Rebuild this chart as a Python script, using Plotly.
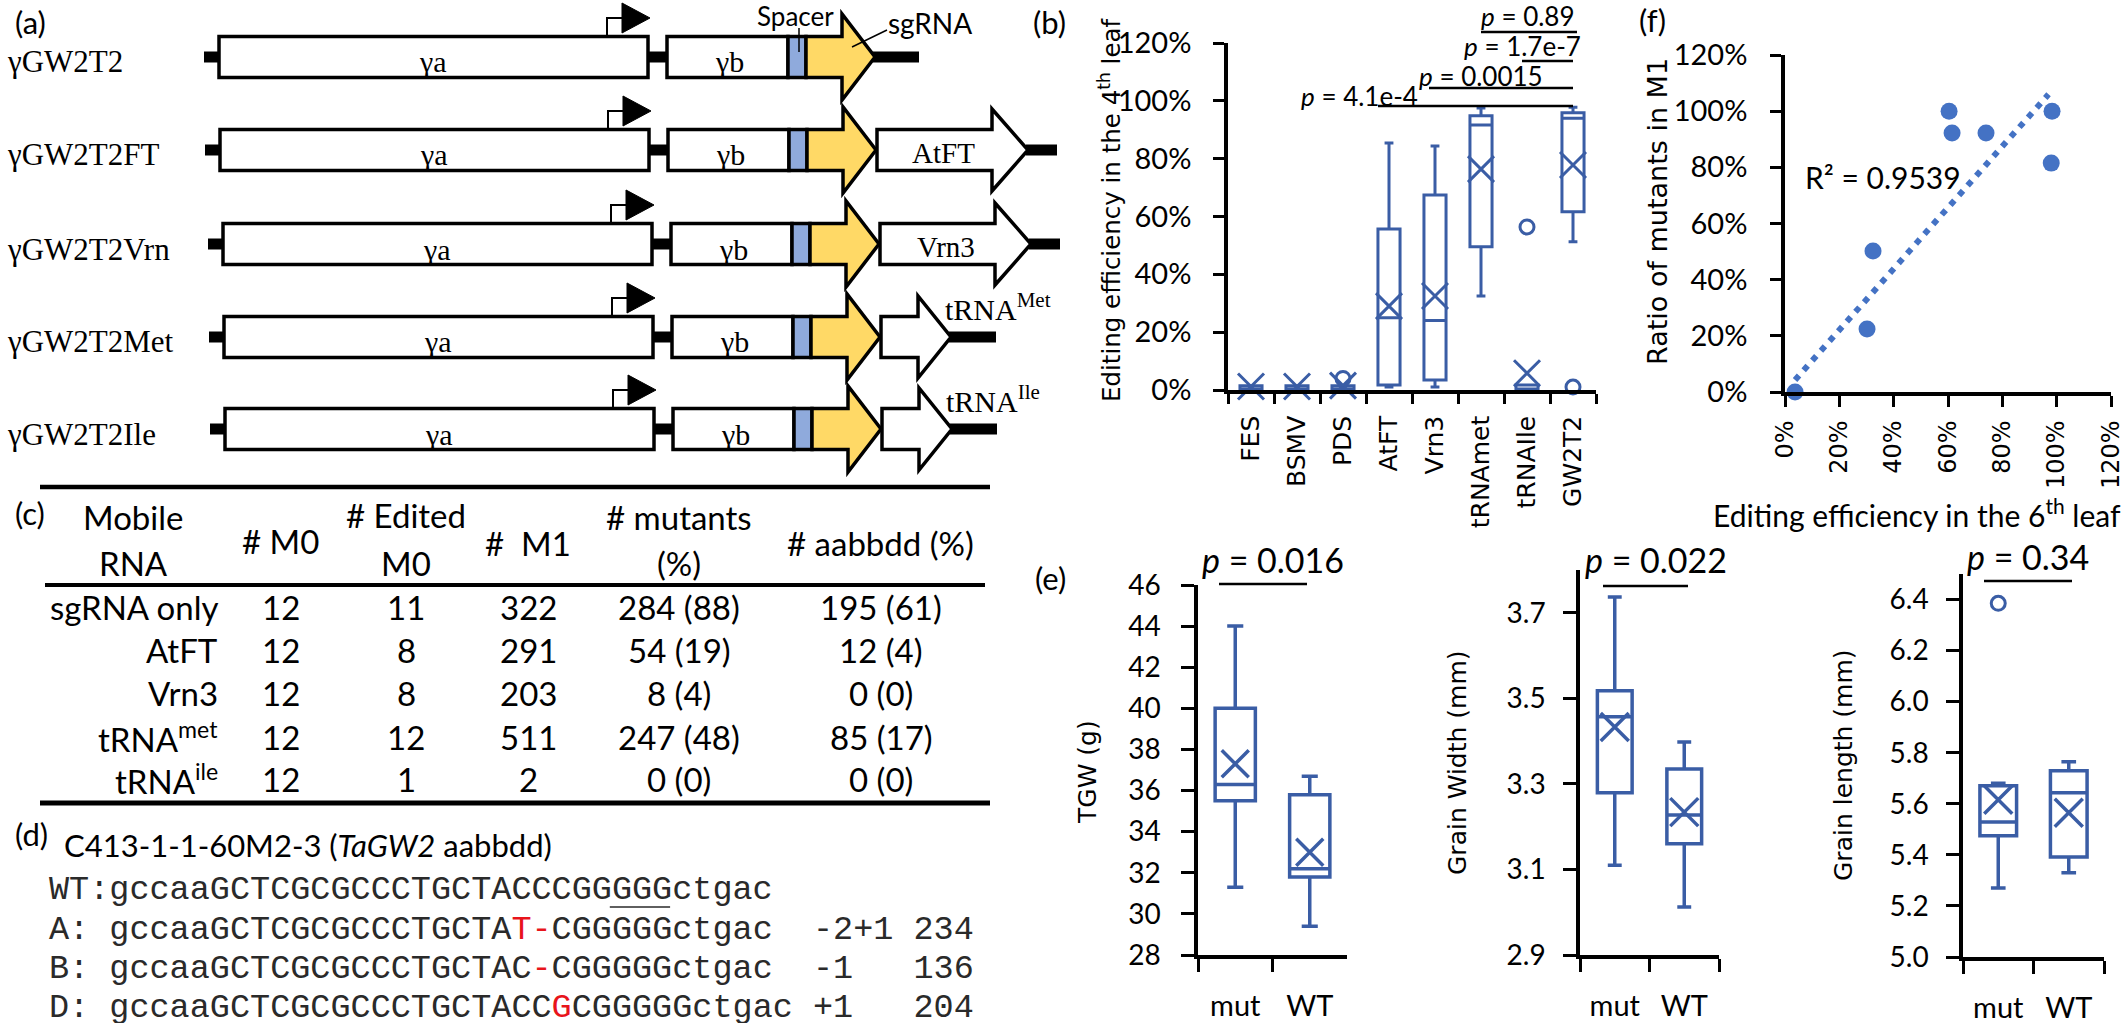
import plotly.graph_objects as go

W, H = 2128, 1023
BOX_BLUE = "#3A5DA5"
DOT_BLUE = "#4472C4"
YELLOW = "#FFD966"
SPACER_BLUE = "#8FAADC"
SANS = "Lato"
WIDE = "DejaVu Sans"
SERIF = "Liberation Serif"
MONO = "Liberation Mono"
NB = "\u00a0"

# ---------------- data ----------------
# (a) constructs
construct_names = ["γGW2T2", "γGW2T2FT", "γGW2T2Vrn", "γGW2T2Met", "γGW2T2Ile"]
cargo_labels = ["", "AtFT", "Vrn3", "tRNA<sup>Met</sup>", "tRNA<sup>Ile</sup>"]
cargo_kind = ["none", "long", "long", "short", "short"]

# (b) editing efficiency in the 4th leaf
b_cats = ["FES", "BSMV", "PDS", "AtFT", "Vrn3", "tRNAmet", "tRNAIle", "GW2T2"]
b_q1 = [0.0, 0.0, 0.0, 0.017, 0.035, 0.495, 0.0, 0.616]
b_median = [0.0, 0.0, 0.0, 0.25, 0.24, 0.916, 0.0, 0.94]
b_q3 = [0.015, 0.015, 0.015, 0.557, 0.674, 0.948, 0.017, 0.959]
b_low = [0.0, 0.0, 0.0, 0.01, 0.01, 0.325, 0.0, 0.513]
b_high = [0.015, 0.015, 0.015, 0.854, 0.844, 0.975, 0.017, 0.978]
b_mean = [0.012, 0.012, 0.015, 0.29, 0.325, 0.764, 0.058, 0.778]
b_out_cat = ["PDS", "tRNAIle", "GW2T2"]
b_out_val = [0.04, 0.564, 0.01]
b_pvals = ["4.1e-4", "0.0015", "1.7e-7", "0.89"]

# (c) table
c_rows = ["sgRNA only", "AtFT", "Vrn3", "tRNA<sup>met</sup>", "tRNA<sup>ile</sup>"]
c_m0 = [12, 12, 12, 12, 12]
c_edited = [11, 8, 8, 12, 1]
c_m1 = [322, 291, 203, 511, 2]
c_mut_n = [284, 54, 8, 247, 0]
c_mut_pct = [88, 19, 4, 48, 0]
c_abd_n = [195, 12, 0, 85, 0]
c_abd_pct = [61, 4, 0, 17, 0]

# (d) sequences
d_title = "C413-1-1-60M2-3 (<i>TaGW2</i> aabbdd)"
d_labels = ["WT:", "A:" + NB, "B:" + NB, "D:" + NB]
d_pre = ["gccaaGCTCGCGCCCTGCTACCCGGGGGctgac", "gccaaGCTCGCGCCCTGCTA", "gccaaGCTCGCGCCCTGCTAC", "gccaaGCTCGCGCCCTGCTACC"]
d_red = ["", "T-", "-", "G"]
d_post = ["", "CGGGGGctgac", "CGGGGGctgac", "CGGGGGctgac"]
d_indel = ["", "-2+1", "-1", "+1"]
d_count = ["", "234", "136", "204"]

# (e) grain traits
e_groups = ["mut", "WT"]
tgw_low, tgw_q1, tgw_med, tgw_q3, tgw_high, tgw_mean = [31.3, 29.4], [35.5, 31.8], [36.3, 32.2], [40.0, 35.8], [44.0, 36.7], [37.3, 33.0]
gw_low, gw_q1, gw_med, gw_q3, gw_high, gw_mean = [3.11, 3.012], [3.279, 3.16], [3.457, 3.227], [3.518, 3.335], [3.737, 3.398], [3.433, 3.234]
gl_low, gl_q1, gl_med, gl_q3, gl_high, gl_mean = [5.27, 5.33], [5.475, 5.392], [5.529, 5.643], [5.671, 5.729], [5.68, 5.765], [5.616, 5.565]
gl_out_cat, gl_out_val = ["mut"], [6.385]
e_pvals = ["0.016", "0.022", "0.34"]

# (f) correlation
f_x = [0.037, 0.302, 0.324, 0.604, 0.615, 0.74, 0.983, 0.98]
f_y = [0.0, 0.224, 0.502, 1.0, 0.922, 0.922, 1.0, 0.815]
trend_x = [0.037, 0.97]
trend_y = [0.043, 1.06]
f_r2 = "R² = 0.9539"

# ---------------- helpers ----------------
shapes, annots = [], []


def px(x):
    return x / W


def py(y):
    return 1 - y / H


def rect(x0, y0, x1, y1, fill="black", lw=0):
    shapes.append(dict(type="rect", xref="paper", yref="paper",
                       x0=px(x0), x1=px(x1), y0=py(y1), y1=py(y0),
                       fillcolor=fill, line=dict(color="black", width=lw), layer="above"))


def poly(pts, fill, lw):
    path = "M " + " L ".join(f"{px(x):.6f},{py(y):.6f}" for x, y in pts) + " Z"
    shapes.append(dict(type="path", xref="paper", yref="paper", path=path,
                       fillcolor=fill, line=dict(color="black", width=lw), layer="above"))


def seg(x0, y0, x1, y1, w=2, color="black"):
    shapes.append(dict(type="line", xref="paper", yref="paper",
                       x0=px(x0), y0=py(y0), x1=px(x1), y1=py(y1),
                       line=dict(color=color, width=w), layer="above"))


def txt(x, y, s, size, family=SANS, xa="center", ya="middle", angle=0, color="black"):
    annots.append(dict(x=px(x), y=py(y), xref="paper", yref="paper", text=s,
                       showarrow=False, xanchor=xa, yanchor=ya, textangle=angle,
                       font=dict(size=size, family=family, color=color)))


# ---------------- panel (a) ----------------
ROW_Y = [57, 150, 244, 337, 429]
ROW_DX = [0, 1, 4, 5, 6]
BH = 20.5
LW = 3.5
for i, name in enumerate(construct_names):
    c, d = ROW_Y[i], ROW_DX[i]
    rect(204 + d, c - 5.5, 221 + d, c + 5.5)
    rect(646 + d, c - 5.5, 669 + d, c + 5.5)
    kind = cargo_kind[i]
    if kind == "none":
        rect(873 + d, c - 5.5, 919 + d, c + 5.5)
    elif kind == "long":
        rect(1025 + d, c - 5.5, 1056 + d, c + 5.5)
    else:
        rect(944 + d, c - 5.5, 991 + d, c + 5.5)
    rect(219 + d, c - BH, 648 + d, c + BH, "white", LW)
    rect(667 + d, c - BH, 788 + d, c + BH, "white", LW)
    rect(788 + d, c - BH, 806 + d, c + BH, SPACER_BLUE, LW)
    poly([(806 + d, c - BH), (842 + d, c - BH), (842 + d, c - 43), (875 + d, c),
          (842 + d, c + 43), (842 + d, c + BH), (806 + d, c + BH)], YELLOW, LW)
    if kind == "long":
        poly([(876 + d, c - BH), (991 + d, c - BH), (991 + d, c - 41), (1027 + d, c),
              (991 + d, c + 41), (991 + d, c + BH), (876 + d, c + BH)], "white", LW)
        txt(942 + d, c + 3, cargo_labels[i], 29, SERIF)
    elif kind == "short":
        poly([(876 + d, c - BH), (913 + d, c - BH), (913 + d, c - 41), (946 + d, c),
              (913 + d, c + 41), (913 + d, c + BH), (876 + d, c + BH)], "white", LW)
        txt(938 + d, c - 30, cargo_labels[i], 30, SERIF, xa="left")
    seg(607 + d, c - BH, 607 + d, c - 39, 2)
    seg(606 + d, c - 39, 624 + d, c - 39, 2)
    poly([(622 + d, c - 54), (650 + d, c - 39), (622 + d, c - 24)], "black", 1)
    txt(5, c + 5, name, 31, SERIF, xa="left")
    txt(433 + d, c + 5, "γa", 30, SERIF)
    txt(729 + d, c + 5, "γb", 30, SERIF)

txt(795, 16, "Spacer", 26)
txt(930, 23, "sgRNA", 28)
seg(799, 28, 799, 52, 1.5)
seg(887, 30, 852, 47, 1.5)

# ---------------- panel (c) table ----------------
seg(40, 487, 990, 487, 4.5)
seg(45, 585, 985, 585, 4)
seg(40, 803, 990, 803, 5)
TF = 33
txt(133, 517, "Mobile", TF)
txt(133, 563, "RNA", TF)
txt(280, 541, "#" + NB + "M0", TF)
txt(406, 515, "#" + NB + "Edited", TF)
txt(406, 563, "M0", TF)
txt(528, 543, "#" + NB + NB + "M1", TF)
txt(679, 517, "#" + NB + "mutants", TF)
txt(679, 563, "(%)", TF)
txt(880, 543, "#" + NB + "aabbdd (%)", TF)
ROWS_C = [607, 650, 693, 737, 779]
for i, lab in enumerate(c_rows):
    y = ROWS_C[i]
    txt(220, y, lab, TF, xa="right")
    txt(281, y, str(c_m0[i]), TF)
    txt(406, y, str(c_edited[i]), TF)
    txt(528, y, str(c_m1[i]), TF)
    txt(679, y, f"{c_mut_n[i]} ({c_mut_pct[i]})", TF)
    txt(881, y, f"{c_abd_n[i]} ({c_abd_pct[i]})", TF)

# ---------------- panel (d) ----------------
txt(62, 845, d_title, 31, xa="left")
CW = 20.1
SEQ_X0 = 47
ROWS_D = [890, 930, 969, 1008]
for i in range(4):
    seq_len = len(d_pre[i]) + len(d_red[i]) + len(d_post[i])
    s = d_labels[i] + d_pre[i]
    if d_red[i]:
        s += f"<span style='color:#E8141B'>{d_red[i]}</span>"
    s += d_post[i]
    if d_indel[i]:
        s += NB * (35 - seq_len) + d_indel[i] + NB * (5 - len(d_indel[i])) + d_count[i]
    txt(SEQ_X0, ROWS_D[i], s, 33.5, MONO, xa="left", color="#2a2a2a")
seg(SEQ_X0 + (3 + 25) * CW, 907, SEQ_X0 + (3 + 28) * CW, 907, 1.5, "#2a2a2a")

# ---------------- panel labels ----------------
txt(30, 22, "(a)", 31)
txt(1049, 22, "(b)", 31)
txt(1652, 20, "(f)", 31)
txt(30, 513, "(c)", 31)
txt(31, 834, "(d)", 31)
txt(1050, 578, "(e)", 31)

# ---------------- panel (b) decorations ----------------
txt(1110, 210, "Editing efficiency in the 4<sup>th</sup> leaf", 24.5, WIDE, angle=-90)
b_brackets = [(1378, 1573, 106), (1429, 1573, 88), (1522, 1573, 61), (1481, 1577, 32)]
b_ptext = [(1359, 96), (1481, 76), (1522, 46), (1528, 16)]
for (x0, x1, y), (tx, ty), p in zip(b_brackets, b_ptext, b_pvals):
    seg(x0, y, x1, y, 2.5)
    txt(tx, ty, f"<i>p</i> = {p}", 26)

# ---------------- panel (f) decorations ----------------
txt(1657, 212, "Ratio of mutants in M1", 27, WIDE, angle=-90)
txt(1917, 513, "Editing efficiency in the 6<sup>th</sup> leaf", 30)
txt(1883, 177, f_r2, 30)

# ---------------- panel (e) decorations ----------------
txt(1087, 772, "TGW (g)", 25, WIDE, angle=-90)
txt(1457, 763, "Grain Width (mm)", 25, WIDE, angle=-90)
txt(1843, 765, "Grain length (mm)", 25, WIDE, angle=-90)
e_lines = [(1219, 1307, 584), (1603, 1688, 586), (1984, 2072, 581)]
e_ptext = [(1273, 559), (1656, 559), (2028, 556)]
for (x0, x1, y), (tx, ty), p in zip(e_lines, e_ptext, e_pvals):
    seg(x0, y, x1, y, 2.5)
    txt(tx, ty, f"<i>p</i> = {p}", 34)

# ---------------- traces ----------------
fig = go.Figure()


def add_box(xa, ya, cats, q1, med, q3, lo, hi, mean, width, lw, xsize):
    fig.add_trace(go.Box(x=cats, q1=q1, median=med, q3=q3, lowerfence=lo, upperfence=hi,
                         xaxis=xa, yaxis=ya, width=width, whiskerwidth=0.4,
                         line=dict(color=BOX_BLUE, width=lw), fillcolor="white",
                         boxpoints=False, hoverinfo="skip", showlegend=False))
    fig.add_trace(go.Scatter(x=cats, y=mean, xaxis=xa, yaxis=ya, mode="markers",
                             marker=dict(symbol="x-thin", size=xsize, color=BOX_BLUE,
                                         line=dict(width=lw, color=BOX_BLUE)),
                             cliponaxis=False, hoverinfo="skip", showlegend=False))


add_box("x", "y", b_cats, b_q1, b_median, b_q3, b_low, b_high, b_mean, 0.48, 3, 26)
fig.add_trace(go.Scatter(x=b_out_cat, y=b_out_val, xaxis="x", yaxis="y", mode="markers",
                         marker=dict(symbol="circle-open", size=14, color=BOX_BLUE,
                                     line=dict(width=3, color=BOX_BLUE)),
                         cliponaxis=False, hoverinfo="skip", showlegend=False))

fig.add_trace(go.Scatter(x=trend_x, y=trend_y, xaxis="x2", yaxis="y2", mode="lines",
                         line=dict(color=DOT_BLUE, width=6, dash="6px,7px"),
                         hoverinfo="skip", showlegend=False))
fig.add_trace(go.Scatter(x=f_x, y=f_y, xaxis="x2", yaxis="y2", mode="markers",
                         marker=dict(size=17, color=DOT_BLUE), cliponaxis=False,
                         hoverinfo="skip", showlegend=False))

add_box("x3", "y3", e_groups, tgw_q1, tgw_med, tgw_q3, tgw_low, tgw_high, tgw_mean, 0.54, 3.5, 27)
add_box("x4", "y4", e_groups, gw_q1, gw_med, gw_q3, gw_low, gw_high, gw_mean, 0.5, 3.5, 28)
add_box("x5", "y5", e_groups, gl_q1, gl_med, gl_q3, gl_low, gl_high, gl_mean, 0.52, 3.5, 28)
fig.add_trace(go.Scatter(x=gl_out_cat, y=gl_out_val, xaxis="x5", yaxis="y5", mode="markers",
                         marker=dict(symbol="circle-open", size=14, color=BOX_BLUE,
                                     line=dict(width=3, color=BOX_BLUE)),
                         cliponaxis=False, hoverinfo="skip", showlegend=False))

# ---------------- axes ----------------
COMMON = dict(showline=True, linecolor="black", linewidth=3.5, ticks="outside", ticklen=11,
              tickwidth=3, tickcolor="black", showgrid=False, zeroline=False,
              fixedrange=True, automargin=False)


def cat_axis(x0, x1, anchor, cats, size, family, angle, standoff, ticklen=11):
    d = dict(COMMON)
    d.update(domain=[px(x0), px(x1)], anchor=anchor, type="category", categoryorder="array",
             categoryarray=cats, range=[-0.5, len(cats) - 0.5], tickson="boundaries",
             tickangle=angle, tickfont=dict(family=family, size=size, color="black"),
             ticklabelstandoff=standoff, ticklen=ticklen)
    return d


def val_axis(ybot, ytop, anchor, rng, tick0, dtick, fmt, size, family, standoff, ticklen=11):
    d = dict(COMMON)
    d.update(domain=[py(ybot), py(ytop)], anchor=anchor, range=rng, tick0=tick0, dtick=dtick,
             tickformat=fmt, tickfont=dict(family=family, size=size, color="black"),
             ticklabelstandoff=standoff, ticklen=ticklen)
    return d


fx2 = dict(COMMON)
fx2.update(domain=[px(1785), px(2111)], anchor="y2", range=[0, 1.2], tick0=0, dtick=0.2,
           tickformat=".0%", tickangle=-90, tickfont=dict(family=WIDE, size=24, color="black"),
           ticklabelstandoff=4)

fig.update_layout(
    template="none",
    width=W, height=H, autosize=False,
    margin=dict(l=0, r=0, t=0, b=0, pad=0),
    paper_bgcolor="white", plot_bgcolor="rgba(0,0,0,0)",
    showlegend=False,
    xaxis=cat_axis(1228, 1596, "y", b_cats, 25, WIDE, -90, 12, 10),
    yaxis=val_axis(390, 43, "x", [0, 1.2], 0, 0.2, ".0%", 29, SANS, 16),
    xaxis2=fx2,
    yaxis2=val_axis(392, 55, "x2", [0, 1.2], 0, 0.2, ".0%", 29, SANS, 17),
    xaxis3=cat_axis(1198, 1347, "y3", e_groups, 29, SANS, 0, 22, 13),
    yaxis3=val_axis(955, 585, "x3", [28, 46], 28, 2, "d", 28, SANS, 15, 13),
    xaxis4=cat_axis(1580, 1719, "y4", e_groups, 29, SANS, 0, 22, 13),
    yaxis4=val_axis(955, 570, "x4", [2.9, 3.8], 2.9, 0.2, ".1f", 28, SANS, 12, 13),
    xaxis5=cat_axis(1963, 2104, "y5", e_groups, 29, SANS, 0, 22, 13),
    yaxis5=val_axis(957, 574, "x5", [5.0, 6.5], 5.0, 0.2, ".1f", 28, SANS, 12, 13),
    shapes=shapes,
    annotations=annots,
    boxmode="overlay",
)

fig.write_html("out.html", config={"displayModeBar": False},
               post_script="document.body.style.margin='0';document.body.style.overflow='hidden';")
